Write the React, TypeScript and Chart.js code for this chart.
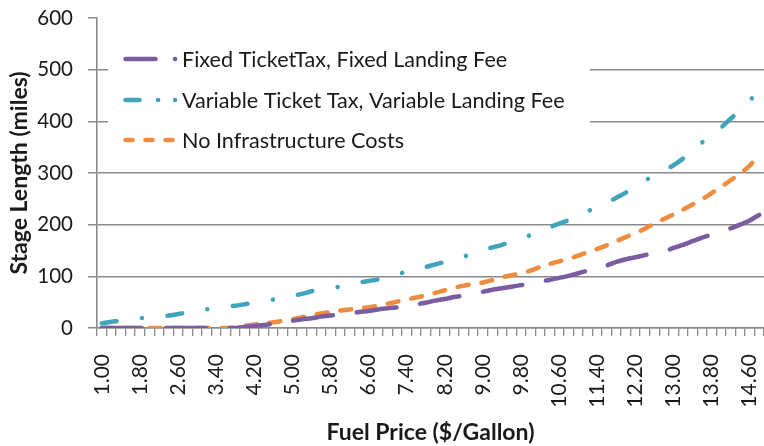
import React, { useEffect, useRef } from "react";
import { Chart, registerables } from "chart.js";

Chart.register(...registerables);

// Fuel price categories ($/gallon)
const categories = [
  "1.00", "1.20", "1.40", "1.60", "1.80", "2.00", "2.20", "2.40", "2.60", "2.80",
  "3.00", "3.20", "3.40", "3.60", "3.80", "4.00", "4.20", "4.40", "4.60", "4.80",
  "5.00", "5.20", "5.40", "5.60", "5.80", "6.00", "6.20", "6.40", "6.60", "6.80",
  "7.00", "7.20", "7.40", "7.60", "7.80", "8.00", "8.20", "8.40", "8.60", "8.80",
  "9.00", "9.20", "9.40", "9.60", "9.80", "10.00", "10.20", "10.40", "10.60", "10.80",
  "11.00", "11.20", "11.40", "11.60", "11.80", "12.00", "12.20", "12.40", "12.60", "12.80",
  "13.00", "13.20", "13.40", "13.60", "13.80", "14.00", "14.20", "14.40", "14.60", "14.80",
];

// Stage length (miles)
const fixedTaxFixedFee = [
  0, 0, 0, 0, 0, 0, 0, 0, 0, 0,
  0, 0, 0, 0, 0, 2, 4, 6, 8, 11,
  14, 17, 19, 22, 24, 26, 28, 31, 33, 36,
  38, 40, 42, 46, 49, 53, 56, 60, 63, 66,
  70, 74, 77, 80, 83, 86, 90, 93, 97, 101,
  106, 111, 116, 121, 128, 133, 137, 141, 145, 148,
  155, 161, 168, 175, 181, 187, 193, 200, 208, 219,
];

const variableTaxVariableFee = [
  9, 12, 14, 16, 19, 21, 22, 24, 27, 30,
  33, 36, 38, 41, 43, 46, 49, 52, 55, 58,
  62, 66, 71, 74, 77, 80, 84, 88, 91, 94,
  99, 104, 109, 114, 118, 123, 128, 133, 138, 145,
  151, 156, 161, 167, 173, 180, 187, 195, 202, 209,
  217, 226, 234, 243, 252, 262, 273, 285, 296, 305,
  315, 328, 343, 359, 374, 388, 405, 422, 440, 460,
];

const noInfrastructure = [
  0, 0, 0, 0, 0, 0, 0, 0, 0, 0,
  0, 0, 0, 0, 1, 4, 7, 9, 11, 14,
  17, 21, 25, 28, 31, 34, 36, 38, 40, 43,
  47, 51, 55, 59, 63, 68, 73, 78, 82, 85,
  88, 93, 98, 102, 106, 111, 118, 124, 129, 134,
  140, 147, 153, 160, 168, 176, 184, 192, 202, 211,
  220, 229, 239, 249, 261, 273, 286, 299, 314, 336,
];

const seriesNames = [
  "Fixed TicketTax, Fixed Landing Fee",
  "Variable Ticket Tax, Variable Landing Fee",
  "No Infrastructure Costs",
];

const yTickValues = [0, 100, 200, 300, 400, 500, 600];

const FONT = "Lato, 'Open Sans', sans-serif";
const GRID = "#8a8a8a";
const TEXT = "#1a1a1a";
const COLORS = ["#7a5ca0", "#40a4bc", "#f08c3e"];
const PLOT_DASH = [
  [40, 24],
  [15, 25.5, 0.1, 25.5],
  [11, 13],
];
const LEGEND_DASH = [
  [30, 19.5, 0.1, 1000],
  [14, 18.5, 0.1, 17, 0.1, 1000],
  [7, 13],
];

const insideLegend = {
  id: "insideLegend",
  beforeDatasetsDraw(chart: any) {
    const { ctx, chartArea } = chart;
    const left = chartArea.left;
    ctx.save();
    ctx.fillStyle = "#ffffff";
    ctx.fillRect(left + 11, 36, 482, 126);
    const rows = [59, 100, 140];
    chart.data.datasets.forEach((ds: any, i: number) => {
      const y = rows[i];
      ctx.strokeStyle = ds.borderColor;
      ctx.lineWidth = 4.5;
      ctx.lineCap = "round";
      ctx.setLineDash(LEGEND_DASH[i]);
      ctx.beginPath();
      ctx.moveTo(left + 28.5, y);
      ctx.lineTo(left + 78.1, y);
      ctx.stroke();
      ctx.setLineDash([]);
      ctx.fillStyle = TEXT;
      ctx.font = `21.6px ${FONT}`;
      ctx.textBaseline = "middle";
      ctx.textAlign = "left";
      ctx.fillText(ds.label, left + 85, y + 1);
    });
    ctx.restore();
  },
};

export default function App() {
  const ref = useRef<HTMLCanvasElement | null>(null);

  useEffect(() => {
    if (!ref.current) return;
    const seriesData = [fixedTaxFixedFee, variableTaxVariableFee, noInfrastructure];
    const chart = new Chart(ref.current, {
      type: "line",
      data: {
        labels: categories,
        datasets: seriesData.map((d, i) => ({
          label: seriesNames[i],
          data: d,
          borderColor: COLORS[i],
          backgroundColor: COLORS[i],
          borderWidth: 4.5,
          borderDash: PLOT_DASH[i],
          borderCapStyle: "round",
          borderJoinStyle: "round",
          pointRadius: 0,
          tension: 0.2,
          fill: false,
        })),
      },
      options: {
        animation: false,
        responsive: false,
        maintainAspectRatio: false,
        layout: { padding: { left: 0, right: 0, top: 18, bottom: 0 } },
        plugins: {
          legend: { display: false },
          tooltip: { enabled: false },
        },
        scales: {
          x: {
            offset: true,
            grid: {
              display: true,
              drawOnChartArea: false,
              offset: true,
              tickLength: 8,
              color: GRID,
              lineWidth: 1.3,
            },
            border: { display: true, color: GRID, width: 1.6 },
            ticks: {
              autoSkip: false,
              maxRotation: 90,
              minRotation: 90,
              padding: 18,
              color: TEXT,
              font: { family: FONT, size: 21 },
              callback: (_v: any, i: number) => (i % 4 === 0 ? categories[i] : ""),
            },
            title: {
              display: true,
              text: "Fuel Price ($/Gallon)",
              color: TEXT,
              font: { family: FONT, size: 23, weight: "bold" },
              padding: { top: 0, bottom: 0 },
            },
            afterFit: (s: any) => {
              s.height = 118;
              s.paddingLeft = 0;
              s.paddingRight = 0;
            },
          },
          y: {
            min: 0,
            max: 600,
            afterBuildTicks: (s: any) => {
              s.ticks = yTickValues.map((v) => ({ value: v }));
            },
            ticks: {
              padding: 15,
              color: TEXT,
              font: { family: FONT, size: 20.5 },
            },
            grid: {
              color: (c: any) => (c.tick && c.tick.value === 600 ? "rgba(0,0,0,0)" : GRID),
              tickColor: GRID,
              tickLength: 9,
              lineWidth: 1.5,
            },
            border: { display: true, color: GRID, width: 1.6 },
            title: {
              display: true,
              text: "Stage Length (miles)",
              color: TEXT,
              font: { family: FONT, size: 23, weight: "bold" },
              padding: { top: 6, bottom: 0 },
            },
            afterFit: (s: any) => {
              s.width = 97;
              s.paddingTop = 0;
              s.paddingBottom = 0;
            },
          },
        },
      },
      plugins: [insideLegend],
    } as any);
    return () => chart.destroy();
  }, []);

  return (
    <div style={{ position: "fixed", left: 0, top: 0, width: 764, height: 446, background: "#fff" }}>
      <canvas ref={ref} width={764} height={446} style={{ display: "block", width: 764, height: 446 }} />
    </div>
  );
}
